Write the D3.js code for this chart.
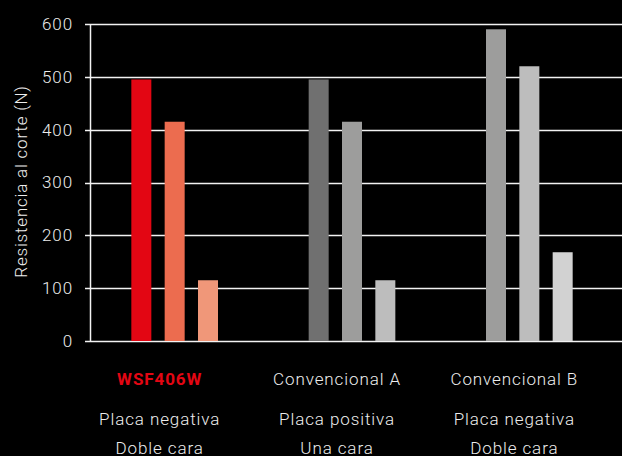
<!DOCTYPE html>
<html>
<head>
<meta charset="utf-8">
<script src="https://cdn.jsdelivr.net/npm/d3@7"></script>
<style>
  html, body { margin: 0; padding: 0; background: #000; }
  svg { display: block; }
</style>
</head>
<body>
<svg id="chart" width="622" height="456"></svg>
<script>
const groups = ['WSF406W', 'Convencional A', 'Convencional B'];
const subLine1 = ['Placa negativa', 'Placa positiva', 'Placa negativa'];
const subLine2 = ['Doble cara', 'Una cara', 'Doble cara'];
const series = ['s1', 's2', 's3'];
const values = [
  [495, 415, 115],
  [495, 415, 115],
  [590, 520, 168]
];
const barColors = [
  ['#e30613', '#ec6c4f', '#f09779'],
  ['#707070', '#9d9d9c', '#bdbdbd'],
  ['#9d9d9c', '#bdbdbd', '#d2d2d2']
];
const yTicks = [0, 100, 200, 300, 400, 500, 600];
const yLabel = 'Resistencia al corte (N)';

const style = {
  fontFamily: 'Roboto, "DejaVu Sans", sans-serif',
  textColor: '#ededed',
  gridColor: '#f2f2f2',
  highlight: '#e30613',
  fontSize: '17px',
  letterSpacing: '0.9px'
};

const svg = d3.select('#chart');
const margin = { top: 24, left: 90 };
const w = 622;

const xScale = d3.scaleBand()
  .domain(groups)
  .range([86, 618])
  .padding(0);

const inner = d3.scaleBand()
  .domain(series)
  .range([-45, 45])
  .paddingInner(0.4)
  .paddingOuter(0.05);

const yScale = d3.scaleLinear()
  .domain([0, 600])
  .range([341, margin.top]);

// grid + y axis
const yAxis = d3.axisLeft(yScale).tickValues(yTicks).tickSize(0).tickPadding(17);
const yAxisSel = svg.append('g')
  .attr('class', 'y-axis')
  .attr('transform', `translate(${margin.left}, 0)`)
  .call(yAxis);
yAxisSel.select('.domain').remove();
yAxisSel.selectAll('.tick text')
  .attr('fill', style.textColor)
  .attr('font-weight', 300)
  .style('letter-spacing', style.letterSpacing)
  .style('font-size', style.fontSize)
  .style('font-family', style.fontFamily);

svg.append('g')
  .attr('class', 'grid')
  .selectAll('line')
  .data(yTicks)
  .enter()
  .append('line')
    .attr('x1', margin.left - 5)
    .attr('x2', w)
    .attr('y1', d => Math.round(yScale(d)) + 0.5)
    .attr('y2', d => Math.round(yScale(d)) + 0.5)
    .attr('stroke', style.gridColor)
    .attr('stroke-width', 1.5);

svg.append('line')
  .attr('x1', margin.left + 0.5)
  .attr('x2', margin.left + 0.5)
  .attr('y1', yScale(600))
  .attr('y2', yScale(0) + 1)
  .attr('stroke', style.gridColor)
  .attr('stroke-width', 1.5);

// bars
const groupSel = svg.append('g').attr('class', 'bars')
  .selectAll('g')
  .data(groups)
  .enter()
  .append('g')
    .attr('transform', d => `translate(${xScale(d) + xScale.bandwidth() / 2}, 0)`);

groupSel.selectAll('rect')
  .data((g, gi) => values[gi].map((v, i) => ({ key: series[i], v, color: barColors[gi][i] })))
  .enter()
  .append('rect')
    .attr('x', d => inner(d.key))
    .attr('width', inner.bandwidth())
    .attr('y', d => yScale(d.v))
    .attr('height', d => yScale(0) - yScale(d.v))
    .attr('fill', d => d.color);

// category labels
const labelSel = svg.append('g').attr('class', 'x-labels')
  .selectAll('g')
  .data(groups)
  .enter()
  .append('g')
    .attr('transform', d => `translate(${xScale(d) + xScale.bandwidth() / 2 - 15}, 0)`)
    .style('font-family', style.fontFamily)
    .style('font-size', style.fontSize)
    .style('letter-spacing', style.letterSpacing)
    .attr('text-anchor', 'middle');

labelSel.append('text')
  .attr('y', 385)
  .attr('fill', (d, i) => i === 0 ? style.highlight : style.textColor)
  .attr('font-weight', (d, i) => i === 0 ? 'bold' : 300)
  .text(d => d);

labelSel.append('text')
  .attr('y', 425)
  .attr('fill', style.textColor)
  .attr('font-weight', 300)
  .text((d, i) => subLine1[i]);

labelSel.append('text')
  .attr('y', 454)
  .attr('fill', style.textColor)
  .attr('font-weight', 300)
  .text((d, i) => subLine2[i]);

// y label
svg.append('text')
  .attr('transform', `translate(27, ${(yScale(0) + yScale(600)) / 2 - 1}) rotate(-90)`)
  .attr('text-anchor', 'middle')
  .attr('fill', style.textColor)
  .attr('font-weight', 300)
  .style('letter-spacing', '0.8px')
  .style('font-family', style.fontFamily)
  .style('font-size', '17px')
  .text(yLabel);
</script>
</body>
</html>
